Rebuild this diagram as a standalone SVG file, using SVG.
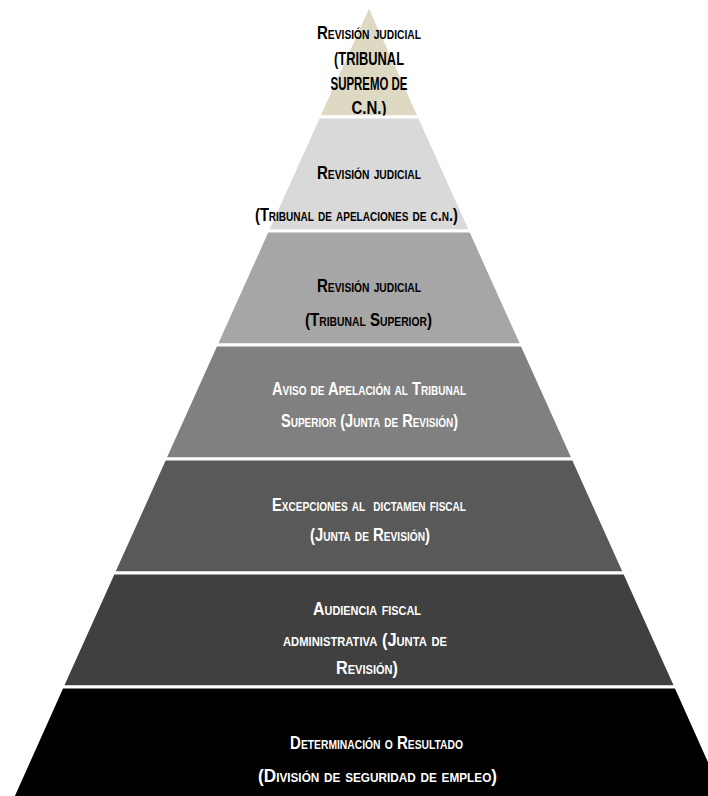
<svg xmlns="http://www.w3.org/2000/svg" width="708" height="796" viewBox="0 0 708 796">
<style>
.layer{stroke:#ffffff;stroke-width:3;stroke-linejoin:miter}
.t{font-family:"Liberation Sans Narrow","Liberation Sans",Arial,sans-serif;font-weight:bold;font-size:19px;font-variant:small-caps;text-anchor:middle}
.dk{fill:#000000}
.lt{fill:#ffffff}
</style>
<rect width="708" height="796" fill="#ffffff"/>
<g id="layer1">
<polygon class="layer" fill="#ddd9c3" points="369,5 419.4,117 318.6,117"/>
<text class="t dk" x="369" y="39" textLength="104" lengthAdjust="spacingAndGlyphs">Revisión judicial</text>
<text class="t dk" x="369" y="65" textLength="70" lengthAdjust="spacingAndGlyphs">(TRIBUNAL</text>
<text class="t dk" x="369" y="90" textLength="77" lengthAdjust="spacingAndGlyphs">SUPREMO DE</text>
<text class="t dk" x="369" y="114" textLength="35" lengthAdjust="spacingAndGlyphs">C.N.)</text>
</g>
<g id="layer2">
<polygon class="layer" fill="#d9d9d9" points="318.6,117 419.4,117 470.7,231 267.3,231"/>
<text class="t dk" x="369" y="179" textLength="104" lengthAdjust="spacingAndGlyphs">Revisión judicial</text>
<text class="t dk" x="356.5" y="221" textLength="203" lengthAdjust="spacingAndGlyphs">(Tribunal de apelaciones de c.n.)</text>
</g>
<g id="layer3">
<polygon class="layer" fill="#a6a6a6" points="267.3,231 470.7,231 522,345 216,345"/>
<text class="t dk" x="369" y="292" textLength="104" lengthAdjust="spacingAndGlyphs">Revisión judicial</text>
<text class="t dk" x="368.5" y="326" textLength="127" lengthAdjust="spacingAndGlyphs">(Tribunal Superior)</text>
</g>
<g id="layer4">
<polygon class="layer" fill="#808080" points="216,345 522,345 573.3,459 164.7,459"/>
<text class="t lt" x="369" y="395" textLength="194" lengthAdjust="spacingAndGlyphs">Aviso de Apelación al Tribunal</text>
<text class="t lt" x="369.5" y="427" textLength="177" lengthAdjust="spacingAndGlyphs">Superior (Junta de Revisión)</text>
</g>
<g id="layer5">
<polygon class="layer" fill="#595959" points="164.7,459 573.3,459 624.6,573 113.4,573"/>
<text class="t lt" x="369" y="511" textLength="194" lengthAdjust="spacingAndGlyphs" xml:space="preserve">Excepciones al  dictamen fiscal</text>
<text class="t lt" x="370" y="541" textLength="120" lengthAdjust="spacingAndGlyphs">(Junta de Revisión)</text>
</g>
<g id="layer6">
<polygon class="layer" fill="#404040" points="113.4,573 624.6,573 675.9,687 62.1,687"/>
<text class="t lt" x="367" y="615" textLength="108" lengthAdjust="spacingAndGlyphs">Audiencia fiscal</text>
<text class="t lt" x="365" y="646" textLength="164" lengthAdjust="spacingAndGlyphs">administrativa (Junta de</text>
<text class="t lt" x="367" y="674" textLength="62" lengthAdjust="spacingAndGlyphs">Revisión)</text>
</g>
<g id="layer7">
<polygon class="layer" fill="#000000" points="62.1,687 675.9,687 727,801 11,801"/>
<text class="t lt" x="376.5" y="749" textLength="173" lengthAdjust="spacingAndGlyphs">Determinación o Resultado</text>
<text class="t lt" x="377.5" y="782" textLength="239" lengthAdjust="spacingAndGlyphs">(División de seguridad de empleo)</text>
</g>
</svg>
